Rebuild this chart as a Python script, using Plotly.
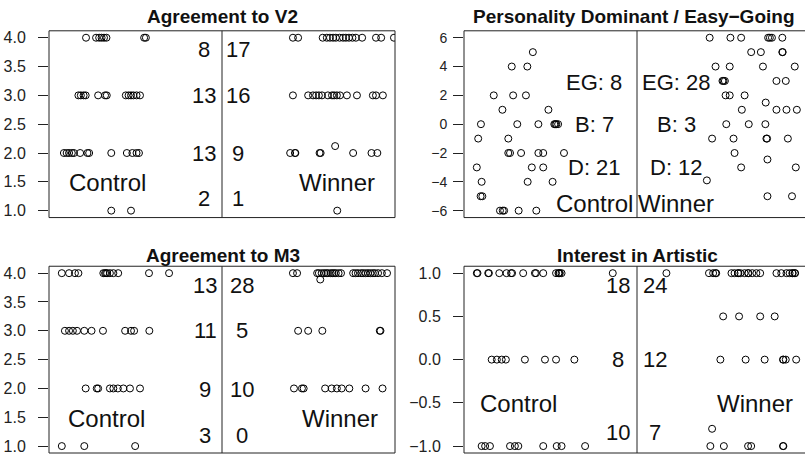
import plotly.graph_objects as go

# ---------------- data (x = jittered position, 0-100; Control < 50 < Winner) ----------------
# Panel 1: Agreement to V2
v2_ctrl_x = [10.7, 13.6, 14.5, 15.2, 15.9, 16.6, 27.5, 28.0,
             8.5, 9.2, 10.0, 10.6, 14.2, 16.2, 16.7, 22.2, 23.0, 23.7, 24.4, 25.3, 26.3,
             4.3, 5.1, 5.8, 6.6, 7.2, 9.0, 11.1, 11.6, 18.0, 22.5, 24.1, 25.3, 26.0,
             18.0, 23.7]
v2_ctrl_y = [4] * 8 + [3] * 13 + [2] * 13 + [1] * 2
v2_win_x = [70.5, 72.0, 79.1, 80.3, 81.2, 82.1, 82.9, 84.0, 85.0, 85.8, 86.7, 87.7, 88.7, 90.5, 94.5, 96.0, 99.7,
            70.5, 74.9, 76.3, 77.2, 78.0, 78.9, 80.6, 81.8, 82.4, 83.2, 84.1, 86.1, 89.0, 93.6, 94.5, 96.5,
            69.7, 71.1, 71.2, 78.2, 78.5, 82.7, 87.9, 93.2, 94.9,
            83.3]
v2_win_y = [4] * 17 + [3] * 16 + [2, 2, 2, 2, 2, 2.12, 2, 2, 2] + [1]
v2_levels = [4, 3, 2, 1]
v2_ctrl_counts = [8, 13, 13, 2]
v2_win_counts = [17, 16, 9, 1]

# Panel 2: Personality Dominant / Easy-Going
pd_ctrl_x = [19.9, 13.8, 18.3, 8.6, 14.2, 17.9, 11.1, 24.4,
             4.9, 15.4, 21.5, 26.1, 26.4, 26.7, 27.2,
             4.1, 12.8, 12.8, 13.3, 16.5, 21.5, 22.9, 28.9,
             3.7, 19.6, 22.9, 5.1, 18.4, 25.6, 4.8, 5.3,
             10.4, 11.2, 11.6, 15.8, 20.9]
pd_ctrl_y = [5, 4, 4, 2, 2, 2, 1, 1,
             0, 0, 0, 0, 0, 0, 0,
             -1, -1, -2, -2, -2, -2, -2, -2,
             -3, -3, -3, -4, -4, -4, -5, -5,
             -6, -6, -6, -6, -6]
pd_win_x = [71.0, 77.0, 80.1, 87.9, 88.4, 89.0, 92.0,
            83.0, 85.8, 92.0, 92.1,
            72.7, 76.8, 86.4, 95.6,
            74.7, 75.0, 75.4, 90.3, 93.0,
            75.6, 76.8, 81.1, 87.2,
            80.3, 90.3, 93.2, 96.2,
            75.8, 82.3, 87.1,
            71.7, 77.9, 87.4, 87.6, 93.6,
            78.2, 87.7, 80.1, 95.9, 70.2, 87.7, 94.8]
pd_win_y = [6, 6, 6, 6, 6, 6, 6,
            5, 5, 5, 5,
            4, 4, 4, 4,
            3, 3, 3, 3, 3,
            2, 2, 2, 1.5,
            1, 1, 1, 1,
            0, 0, 0,
            -1, -1, -1, -1, -1,
            -2, -2.45, -3, -3, -3.9, -5, -5]
pd_groups = ["EG", "B", "D"]
pd_ctrl_counts = [8, 7, 21]
pd_win_counts = [28, 3, 12]

# Panel 3: Agreement to M3
m3_ctrl_x = [3.7, 5.8, 7.5, 8.5, 15.7, 16.2, 16.5, 16.8, 17.6, 18.6, 20.0, 28.9, 34.7,
             4.6, 5.8, 6.9, 8.1, 10.2, 12.3, 15.6, 22.0, 23.7, 24.6, 29.0,
             10.6, 13.8, 14.2, 17.6, 18.6, 19.9, 21.5, 23.4, 26.3,
             3.7, 10.2, 24.9]
m3_ctrl_y = [4] * 13 + [3] * 11 + [2] * 9 + [1] * 3
m3_win_x = [70.5, 71.7, 77.5, 78.0, 78.8, 79.5, 80.1, 80.6, 81.4, 81.9, 82.4, 82.9, 83.7, 84.4,
            87.9, 88.6, 89.3, 90.2, 90.8, 91.5, 92.2, 92.9, 93.6, 94.2, 95.1, 96.2, 97.7, 78.4,
            72.0, 74.9, 79.0, 95.6, 95.8,
            70.8, 73.1, 73.6, 79.8, 81.7, 83.2, 84.6, 86.8, 91.5, 96.4]
m3_win_y = [4] * 27 + [3.89] + [3] * 5 + [2] * 10
m3_levels = [4, 3, 2, 1]
m3_ctrl_counts = [13, 11, 9, 3]
m3_win_counts = [28, 5, 10, 0]

# Panel 4: Interest in Artistic
ia_ctrl_x = [3.7, 3.9, 7.0, 7.2, 10.2, 12.3, 13.6, 13.9, 17.1, 20.5, 20.8, 22.9, 26.6, 27.3, 27.5, 27.7, 28.2, 43.0,
             8.0, 9.5, 10.9, 12.1, 17.6, 23.4, 26.6, 31.9,
             5.1, 6.1, 7.5, 13.3, 14.7, 15.7, 22.9, 26.8, 28.2, 35.0]
ia_ctrl_y = [1] * 18 + [0] * 8 + [-1] * 10
ia_win_x = [58.5, 70.8, 72.0, 72.7, 72.9, 77.3, 78.2, 79.2, 79.3, 79.9, 81.1, 82.1, 82.2, 83.3, 84.5, 85.6,
            90.3, 91.7, 93.2, 94.1, 94.9, 95.0, 95.6, 95.7,
            74.9, 79.5, 85.6, 89.8,
            74.1, 81.4, 86.9, 92.2, 92.3, 93.0, 96.0,
            71.7, 71.2, 75.1, 82.1, 83.0, 92.2, 92.3]
ia_win_y = [1] * 24 + [0.5] * 4 + [0] * 7 + [-0.8] + [-1] * 6
ia_levels = [1, 0, -1]
ia_ctrl_counts = [18, 8, 10]
ia_win_counts = [24, 12, 7]

# ---------------- layout helpers ----------------
W, H = 805, 456
FONT = "Liberation Sans, Arial, Helvetica, sans-serif"
SCALE = 3.46  # px per x unit


def px_x(p):
    return p / W


def px_y(p):
    return 1 - p / H


panels = [
    dict(left=49, top=30, bottom=218, yr=[0.88, 4.12], tv=[1, 1.5, 2, 2.5, 3, 3.5, 4], tf=".1f", so=9, fs=16),
    dict(left=464, top=30, bottom=218, yr=[-6.48, 6.48], tv=[-6, -4, -2, 0, 2, 4, 6], tf="d", so=3, fs=14),
    dict(left=49, top=267, bottom=455, yr=[0.88, 4.12], tv=[1, 1.5, 2, 2.5, 3, 3.5, 4], tf=".1f", so=9, fs=16),
    dict(left=464, top=267, bottom=455, yr=[-1.08, 1.08], tv=[-1, -0.5, 0, 0.5, 1], tf=".1f", so=9, fs=16),
]

fig = go.Figure()
layout = dict(width=W, height=H, margin=dict(l=0, r=0, t=0, b=0),
              paper_bgcolor="white", plot_bgcolor="white", showlegend=False,
              font=dict(family=FONT, color="black"))
shapes = []
annotations = []

for i, p in enumerate(panels, start=1):
    full_right = p["left"] + 100 * SCALE
    right = min(full_right, W)
    xr = [0, (right - p["left"]) / SCALE]
    sfx = "" if i == 1 else str(i)
    layout["xaxis" + sfx] = dict(domain=[px_x(p["left"]), px_x(right)], range=xr, visible=False,
                                 anchor="y" + sfx, fixedrange=True)
    layout["yaxis" + sfx] = dict(domain=[px_y(p["bottom"]), px_y(p["top"])], range=p["yr"],
                                 tickvals=p["tv"], tickformat=p["tf"], ticks="outside", ticklen=10,
                                 tickwidth=1, tickcolor="#222", showgrid=False, zeroline=False,
                                 showline=False, anchor="x" + sfx, ticklabelstandoff=p["so"],
                                 tickfont=dict(size=p["fs"], color="#222", family=FONT))
    xd = "x" + sfx + " domain"
    yd = "y" + sfx + " domain"
    x1 = (full_right - p["left"]) / (right - p["left"])
    shapes.append(dict(type="rect", xref=xd, yref=yd, x0=0, x1=x1, y0=0, y1=1,
                       line=dict(color="#222", width=1), layer="above"))
    shapes.append(dict(type="line", xref="x" + sfx, yref=yd, x0=50, x1=50, y0=0, y1=1,
                       line=dict(color="#222", width=1), layer="above"))

marker = dict(symbol="circle-open", size=7, color="black", line=dict(width=1, color="black"))
series = [
    (v2_ctrl_x, v2_ctrl_y, "x", "y"), (v2_win_x, v2_win_y, "x", "y"),
    (pd_ctrl_x, pd_ctrl_y, "x2", "y2"), (pd_win_x, pd_win_y, "x2", "y2"),
    (m3_ctrl_x, m3_ctrl_y, "x3", "y3"), (m3_win_x, m3_win_y, "x3", "y3"),
    (ia_ctrl_x, ia_ctrl_y, "x4", "y4"), (ia_win_x, ia_win_y, "x4", "y4"),
]
for xs, ys, xa, ya in series:
    fig.add_trace(go.Scatter(x=xs, y=ys, mode="markers", marker=marker, xaxis=xa, yaxis=ya,
                             hoverinfo="skip", cliponaxis=True))


def txt(text, x, y, xa, ya, size=22):
    annotations.append(dict(text=text, x=x, y=y, xref=xa, yref=ya, showarrow=False,
                            xanchor="center", yanchor="middle",
                            font=dict(size=size, family=FONT, color="#111")))


LBL = 24
# Panel 1 texts
v2_text_y = [3.8, 3.0, 2.0, 1.21]
for c, w, ty in zip(v2_ctrl_counts, v2_win_counts, v2_text_y):
    txt(str(c), 44.7, ty, "x", "y")
    txt(str(w), 54.6, ty, "x", "y")
txt("Control", 16.8, 1.48, "x", "y", LBL)
txt("Winner", 83.2, 1.48, "x", "y", LBL)

# Panel 2 texts
pd_text_y = [2.9, 0.0, -3.0]
for g, c, w, ty in zip(pd_groups, pd_ctrl_counts, pd_win_counts, pd_text_y):
    txt(f"{g}: {c}", 37.6, ty, "x2", "y2")
    txt(f"{g}: {w}", 61.3, ty, "x2", "y2")
txt("Control", 37.6, -5.52, "x2", "y2", LBL)
txt("Winner", 61.3, -5.52, "x2", "y2", LBL)

# Panel 3 texts
m3_text_y = [3.79, 3.01, 1.99, 1.18]
for c, w, ty in zip(m3_ctrl_counts, m3_win_counts, m3_text_y):
    txt(str(c), 45.1, ty, "x3", "y3")
    txt(str(w), 55.7, ty, "x3", "y3")
txt("Control", 16.7, 1.47, "x3", "y3", LBL)
txt("Winner", 84.1, 1.47, "x3", "y3", LBL)

# Panel 4 texts
ia_text_y = [0.86, 0.0, -0.84]
for c, w, ty in zip(ia_ctrl_counts, ia_win_counts, ia_text_y):
    txt(str(c), 44.5, ty, "x4", "y4")
    txt(str(w), 55.2, ty, "x4", "y4")
txt("Control", 15.7, -0.51, "x4", "y4", LBL)
txt("Winner", 84.1, -0.51, "x4", "y4", LBL)

# Titles
titles = [("Agreement to V2", 222, 16), ("Personality Dominant / Easy\u2212Going", 634, 16),
          ("Agreement to M3", 222.5, 256), ("Interest in Artistic", 637.5, 256)]
for t, cx, cy in titles:
    annotations.append(dict(text=f"<b>{t}</b>", x=px_x(cx), y=px_y(cy), xref="paper", yref="paper",
                            showarrow=False, xanchor="center", yanchor="middle",
                            font=dict(size=19, family=FONT, color="#111")))

layout["shapes"] = shapes
layout["annotations"] = annotations
fig.update_layout(**layout)
fig.write_html("out.html", config={"displayModeBar": False},
               post_script="document.body.style.margin='0';document.body.style.overflow='hidden';")
